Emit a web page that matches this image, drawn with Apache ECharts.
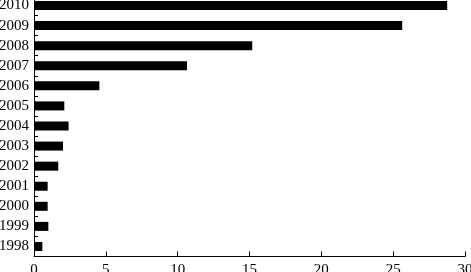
<!DOCTYPE html>
<html>
<head>
<meta charset="utf-8">
<script src="https://cdn.jsdelivr.net/npm/echarts@6/dist/echarts.min.js"></script>
<style>
html,body{margin:0;padding:0;background:#fff;}
#chart{width:471px;height:272px;}
</style>
</head>
<body>
<div id="chart"></div>
<script>
var years = ['1998','1999','2000','2001','2002','2003','2004','2005','2006','2007','2008','2009','2010'];
var values = [0.58, 1.0, 0.95, 0.95, 1.69, 2.02, 2.41, 2.11, 4.55, 10.65, 15.19, 25.63, 28.76];
var xTicks = {min: 0, max: 30, interval: 5};

var chart = echarts.init(document.getElementById('chart'), null, {renderer: 'canvas'});
var font = '"Liberation Serif", "DejaVu Serif", serif';
chart.setOption({
  animation: false,
  backgroundColor: '#fff',
  grid: {left: 34, right: 6, top: -4.5, bottom: 15.5, containLabel: false, outerBoundsMode: 'none'},
  xAxis: {
    type: 'value',
    min: xTicks.min, max: xTicks.max, interval: xTicks.interval,
    axisLine: {show: true, lineStyle: {color: '#000', width: 1}},
    axisTick: {show: true, inside: true, length: 5, lineStyle: {color: '#000'}},
    splitLine: {show: false},
    axisLabel: {color: '#000', fontFamily: font, fontSize: 15, margin: 6, hideOverlap: false}
  },
  yAxis: {
    type: 'category',
    data: years,
    axisLine: {show: true, lineStyle: {color: '#000', width: 1}},
    axisTick: {show: true, inside: true, length: 4, lineStyle: {color: '#000'}},
    splitLine: {show: false},
    axisLabel: {color: '#000', fontFamily: font, fontSize: 15, margin: 5, interval: 0, hideOverlap: false}
  },
  series: [{
    type: 'bar',
    data: values,
    barWidth: 9,
    itemStyle: {color: '#000'}
  }]
});
</script>
</body>
</html>
